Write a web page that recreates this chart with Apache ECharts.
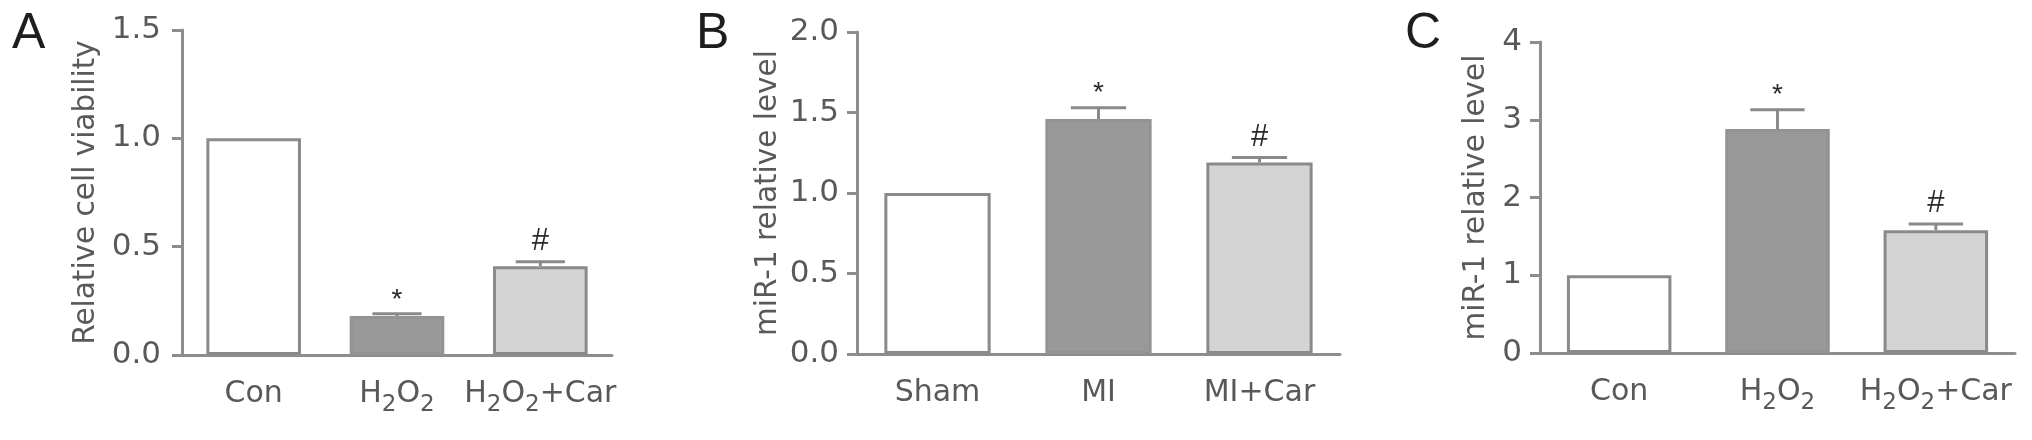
<!DOCTYPE html>
<html>
<head>
<meta charset="utf-8">
<script src="https://cdn.jsdelivr.net/npm/echarts@6/dist/echarts.min.js"></script>
<style>
html,body{margin:0;padding:0;background:#fff;}
#chart{width:2032px;height:440px;}
</style>
</head>
<body>
<div id="chart"></div>
<script>
// ---- data ----
const panelLetters = ['A', 'B', 'C'];

const catsA = ['Con', 'H2O2', 'H2O2+Car'];
const valsA = [1.0, 0.18, 0.41];
const errA = [0, 0.01, 0.02];
const sigA = ['', '*', '#'];
const yNameA = 'Relative cell viability';
const yTicksA = [0, 0.5, 1.0, 1.5];

const catsB = ['Sham', 'MI', 'MI+Car'];
const valsB = [1.0, 1.46, 1.19];
const errB = [0, 0.07, 0.03];
const sigB = ['', '*', '#'];
const yNameB = 'miR-1 relative level';
const yTicksB = [0, 0.5, 1.0, 1.5, 2.0];

const catsC = ['Con', 'H2O2', 'H2O2+Car'];
const valsC = [1.0, 2.88, 1.58];
const errC = [0, 0.25, 0.08];
const sigC = ['', '*', '#'];
const yNameC = 'miR-1 relative level';
const yTicksC = [0, 1, 2, 3, 4];

// ---- styles ----
const FONT = 'Liberation Sans';
const FONT_W = 'DejaVu Sans';
const AXIS = '#8d8d8d';
const LABEL = '#595959';
const fills = ['#ffffff', '#999999', '#d4d4d4'];
const borders = ['#8a8a8a', '#939393', '#8a8a8a'];

const panels = [
  {cats: catsA, vals: valsA, err: errA, sig: sigA, name: yNameA, ticks: yTicksA, decimals: 1,
   grid: {left: 182, right: 1420, top: 30, bottom: 85}, nameGap: 81, labelMargin: 21},
  {cats: catsB, vals: valsB, err: errB, sig: sigB, name: yNameB, ticks: yTicksB, decimals: 1,
   grid: {left: 857, right: 692, top: 32, bottom: 86}, nameGap: 74, labelMargin: 18},
  {cats: catsC, vals: valsC, err: errC, sig: sigC, name: yNameC, ticks: yTicksC, decimals: 0,
   grid: {left: 1540, right: 17, top: 42, bottom: 87}, nameGap: 49, labelMargin: 18}
];

function catFormatter(v) {
  const parts = v.split(/(2)/);
  return parts.filter(p => p.length).map(p => p === '2' ? '{s|2}' : '{n|' + p + '}').join('');
}

const grids = [], xAxes = [], yAxes = [], series = [], graphics = [];
const letterX = [12, 696, 1405];

panels.forEach((p, i) => {
  grids.push(Object.assign({containLabel: false}, p.grid));
  const tmin = p.ticks[0], tmax = p.ticks[p.ticks.length - 1];
  const interval = p.ticks[1] - p.ticks[0];
  xAxes.push({
    type: 'category', gridIndex: i, data: p.cats, boundaryGap: true,
    axisLine: {lineStyle: {color: AXIS, width: 3}},
    axisTick: {alignWithLabel: true, length: 12, lineStyle: {color: AXIS, width: 3}},
    axisLabel: {
      interval: 0, margin: 24, color: LABEL, fontFamily: FONT_W, fontSize: 30,
      formatter: catFormatter,
      rich: {
        n: {fontSize: 30, fontFamily: FONT_W, color: LABEL, lineHeight: 32, verticalAlign: 'top'},
        s: {fontSize: 23, fontFamily: FONT_W, color: LABEL, lineHeight: 23, verticalAlign: 'top', padding: [15, 0, 0, 0]}
      }
    },
    splitLine: {show: false}
  });
  yAxes.push({
    type: 'value', gridIndex: i, min: tmin, max: tmax, interval: interval,
    name: p.name, nameLocation: 'middle', nameGap: p.nameGap,
    nameTextStyle: {fontFamily: FONT_W, fontSize: 29.5, color: LABEL},
    axisLine: {show: true, lineStyle: {color: AXIS, width: 3}},
    axisTick: {show: true, length: 10, lineStyle: {color: AXIS, width: 3}},
    axisLabel: {margin: p.labelMargin, color: LABEL, fontFamily: FONT_W, fontSize: 31,
      formatter: v => Number(v).toFixed(p.decimals)},
    splitLine: {show: false}
  });
  series.push({
    type: 'bar', xAxisIndex: i, yAxisIndex: i, barWidth: '66%',
    data: p.vals.map((v, k) => ({value: v, itemStyle: {color: fills[k], borderColor: borders[k], borderWidth: 3}})),
    animation: false, silent: true
  });
  series.push({
    type: 'custom', xAxisIndex: i, yAxisIndex: i, animation: false, silent: true, z: 5,
    data: p.vals.map((v, k) => [k, v, p.err[k]]),
    renderItem: function (params, api) {
      const k = api.value(0), v = api.value(1), e = api.value(2);
      const base = api.coord([k, v]);
      const top = api.coord([k, v + e]);
      const bw = api.size([1, 0])[0] * 0.66;
      const half = bw * 0.26;
      const children = [];
      const style = {stroke: '#8a8a8a', lineWidth: 3};
      if (e > 0) {
        children.push({type: 'line', shape: {x1: base[0], y1: base[1], x2: top[0], y2: top[1]}, style: style});
        children.push({type: 'line', shape: {x1: top[0] - half, y1: top[1], x2: top[0] + half, y2: top[1]}, style: style});
      }
      const s = p.sig[k];
      if (s) {
        const isStar = s === '*';
        children.push({type: 'text', style: {
          text: s, x: top[0], y: top[1] - (isStar ? 0 : 5),
          align: 'center', verticalAlign: 'bottom',
          fontFamily: FONT, fontSize: isStar ? 28 : 31, fill: '#2a2a2a'
        }});
      }
      return {type: 'group', children: children};
    }
  });
  graphics.push({
    type: 'text', left: letterX[i], top: 9,
    style: {text: panelLetters[i], fontFamily: FONT, fontSize: 50, fill: '#1e1e1e'}
  });
});

const chart = echarts.init(document.getElementById('chart'), null, {renderer: 'canvas'});
chart.setOption({
  backgroundColor: '#ffffff',
  animation: false,
  grid: grids, xAxis: xAxes, yAxis: yAxes, series: series, graphic: graphics
});
</script>
</body>
</html>
